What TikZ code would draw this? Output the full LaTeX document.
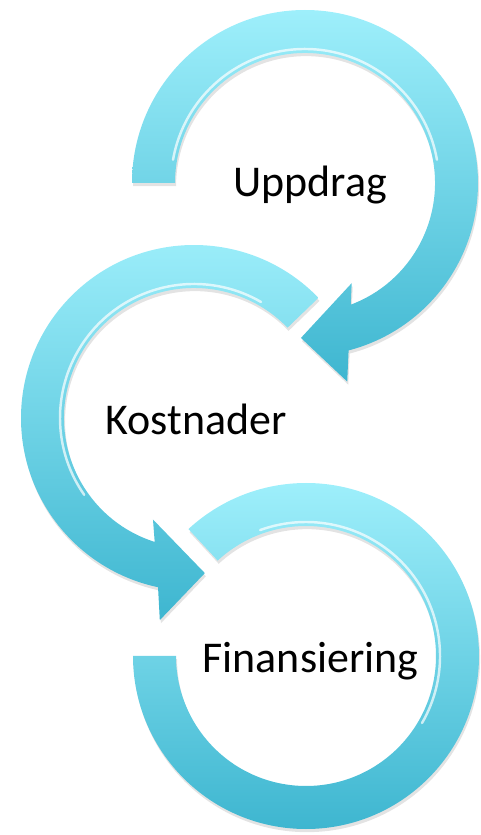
\documentclass[tikz,border=0pt]{standalone}
\usepackage{fontspec}
\setmainfont{Carlito}
\usepackage{tikz}
\usetikzlibrary{calc,shadows}
\definecolor{bandtop}{RGB}{158,239,251}
\definecolor{bandmid}{RGB}{125,222,240}
\definecolor{bandbot}{RGB}{62,182,208}

\begin{document}
\begin{tikzpicture}[
    band/.style={top color=bandtop, middle color=bandmid, bottom color=bandbot, draw=none,
        drop shadow={opacity=0.22, shadow xshift=0.6pt, shadow yshift=-1.8pt}},
    gloss/.style={white, opacity=0.7, line width=1.4pt, line cap=round},
    label/.style={font=\fontsize{25}{30}\selectfont, text=black, anchor=base}
]
    \useasboundingbox (0,0) rectangle (9.62,16.70);
    \coordinate (c1) at (6.10,13.04);
    \coordinate (c2) at (3.88,8.34);
    \coordinate (c3) at (6.12,3.58);

    % Uppdrag arrow
    \path[band] ($(c1)+(180:3.46)$) arc[start angle=180, end angle=-75.4, radius=3.46]
        -- ($(c1)+(-78:4.06)$) -- ($(c1)+(-91.5:3.10)$) -- ($(c1)+(-65:2.21)$)
        -- ($(c1)+(-69.4:2.60)$) arc[start angle=-69.4, end angle=180, radius=2.60] -- cycle;
    \draw[gloss] ($(c1)+(170:2.68)$) arc[start angle=170, end angle=10, radius=2.68];

    % Kostnader arrow
    \path[band] ($(c2)+(44:3.46)$) arc[start angle=44, end angle=258, radius=3.46]
        -- ($(c2)+(260.4:4.10)$) -- ($(c2)+(274:3.11)$) -- ($(c2)+(248:2.19)$)
        -- ($(c2)+(252.4:2.60)$) arc[start angle=252.4, end angle=44, radius=2.60] -- cycle;
    \draw[gloss] ($(c2)+(60:2.68)$) arc[start angle=60, end angle=215, radius=2.68];

    % Finansiering ring
    \path[band] ($(c3)+(180:3.46)$) arc[start angle=180, end angle=492.8, radius=3.46]
        -- ($(c3)+(132.8:2.60)$) arc[start angle=132.8, end angle=-180, radius=2.60] -- cycle;
    \draw[gloss] ($(c3)+(-30:2.68)$) arc[start angle=-30, end angle=110, radius=2.68];

    \node[label] (uppdrag) at (6.20,12.76) {Uppdrag};
    \node[label] (kostnader) at (3.92,8.00) {Kostnader};
    \node[label] (finans) at (6.21,3.24) {Finansiering};
\end{tikzpicture}
\end{document}
